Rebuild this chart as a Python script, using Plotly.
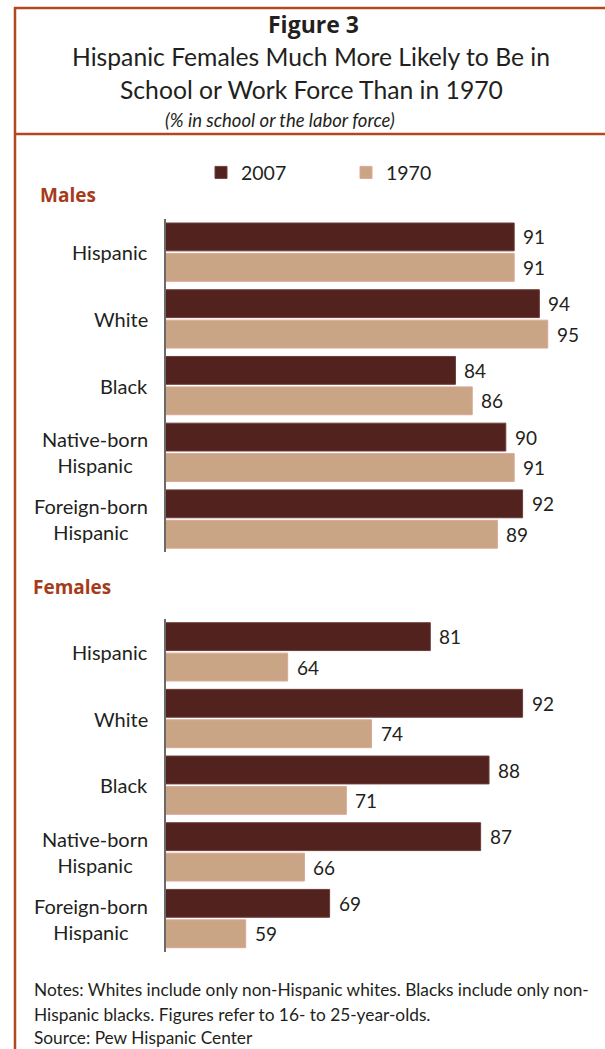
import plotly.graph_objects as go

# ---------------- data ----------------
categories = ["Hispanic", "White", "Black", "Native-born Hispanic", "Foreign-born Hispanic"]
category_labels = ["Hispanic", "White", "Black", "Native-born<br>Hispanic", "Foreign-born<br>Hispanic"]
series_names = ["2007", "1970"]
males_2007 = [91, 94, 84, 90, 92]
males_1970 = [91, 95, 86, 91, 89]
females_2007 = [81, 92, 88, 87, 69]
females_1970 = [64, 74, 71, 66, 59]

# ---------------- style ----------------
W, H = 605, 1049
FONT = "Lato"
BOLD = "Open Sans"
TXT = "#231f20"
C2007 = "#52221f"
C1970 = "#c9a586"
FRAME = "#b3471f"
HEAD = "#a63b1a"


def px(x):
    return x / W


def py(y):
    return 1 - y / H


fig = go.Figure()

panels = [("x", "y", males_2007, males_1970, True),
          ("x2", "y2", females_2007, females_1970, False)]
for xa, ya, v07, v70, leg in panels:
    fig.add_trace(go.Bar(
        x=v07, y=categories, orientation="h", name=series_names[0],
        marker=dict(color=C2007, line=dict(color="#6e3d38", width=1)),
        xaxis=xa, yaxis=ya, showlegend=leg, legendgroup="a", hoverinfo="x+y"))
    fig.add_trace(go.Bar(
        x=v70, y=categories, orientation="h", name=series_names[1],
        marker=dict(color=C1970, line=dict(color="#dca796", width=1)),
        xaxis=xa, yaxis=ya, showlegend=leg, legendgroup="b", hoverinfo="x+y"))

x_dom = [px(166), px(600)]
x_rng = [49.5, 49.5 + (600 - 166) / 8.39]
axis_x = dict(domain=x_dom, range=x_rng, showgrid=False, zeroline=False,
              showline=False, showticklabels=False, ticks="", fixedrange=True)
axis_y = dict(type="category", categoryorder="array", categoryarray=categories,
              range=[4.5, -0.5], showgrid=False, zeroline=False, showline=True,
              linecolor="#6a6a6a", linewidth=2, showticklabels=False, ticks="",
              fixedrange=True)

fig.update_layout(
    width=W, height=H,
    margin=dict(l=0, r=0, t=0, b=0, pad=0),
    paper_bgcolor="white", plot_bgcolor="white",
    font=dict(family=FONT, color=TXT, size=19),
    barmode="group", bargap=0.087, bargroupgap=0.085,
    xaxis=dict(axis_x, anchor="y"),
    yaxis=dict(axis_y, anchor="x", domain=[py(552.4), py(218.8)]),
    xaxis2=dict(axis_x, anchor="y2"),
    yaxis2=dict(axis_y, anchor="x2", domain=[py(951.9), py(618.5)]),
    legend=dict(orientation="h", x=px(201), xanchor="left", y=py(172.7),
                yanchor="middle", font=dict(size=19.5, family=FONT, color=TXT),
                bgcolor="rgba(0,0,0,0)", borderwidth=0, entrywidth=100,
                itemwidth=30, traceorder="normal"),
    showlegend=True,
)

annotations = []
# titles
titles = [("<b>Figure 3</b>", 313, 24, 23, BOLD),
          ("Hispanic Females Much More Likely to Be in", 311, 56.5, 24.7, FONT),
          ("School or Work Force Than in 1970", 311, 89, 24.7, FONT),
          ("<i>(% in school or the labor force)</i>", 280, 119.5, 18.5, FONT)]
for t, x, y, s, f in titles:
    annotations.append(dict(text=t, xref="paper", yref="paper", x=px(x), y=py(y),
                            xanchor="center", yanchor="middle", showarrow=False,
                            font=dict(size=s, family=f, color=TXT)))

# section headers
annotations.append(dict(text="<b>Males</b>", xref="paper", yref="paper", x=px(38), y=py(194.5),
                        xanchor="left", yanchor="middle", showarrow=False,
                        font=dict(size=19, family=BOLD, color=HEAD)))
annotations.append(dict(text="<b>Females</b>", xref="paper", yref="paper", x=px(31), y=py(586.5),
                        xanchor="left", yanchor="middle", showarrow=False,
                        font=dict(size=19, family=BOLD, color=HEAD)))

# category labels and value labels
for xa, ya, v07, v70, _ in panels:
    for cat, lab, a, b in zip(categories, category_labels, v07, v70):
        annotations.append(dict(text=lab, xref="paper", yref=ya, x=px(149.5), y=cat,
                                xanchor="right", yanchor="middle", align="center",
                                showarrow=False, font=dict(size=20, family=FONT, color=TXT)))
        for val, shift in ((a, 15.2), (b, -15.2)):
            annotations.append(dict(text=str(val), xref=xa, yref=ya, x=val, y=cat,
                                    xshift=7, yshift=shift, xanchor="left", yanchor="middle",
                                    showarrow=False, font=dict(size=19, family=FONT, color=TXT)))

# notes
notes = ["Notes: Whites include only non-Hispanic whites. Blacks include only non-",
         "Hispanic blacks. Figures refer to 16- to 25-year-olds.",
         "Source: Pew Hispanic Center"]
for t, yy in zip(notes, [989.5, 1014, 1037.5]):
    annotations.append(dict(text=t, xref="paper", yref="paper", x=px(32), y=py(yy),
                            xanchor="left", yanchor="middle", showarrow=False,
                            font=dict(size=17.3, family=FONT, color=TXT)))

fig.update_layout(annotations=annotations)

# frame
shapes = [
    dict(type="line", xref="paper", yref="paper", x0=px(15), x1=px(15), y0=py(7), y1=py(1049),
         line=dict(color=FRAME, width=2.5)),
    dict(type="line", xref="paper", yref="paper", x0=px(14), x1=px(605), y0=py(8), y1=py(8),
         line=dict(color=FRAME, width=2.5)),
    dict(type="line", xref="paper", yref="paper", x0=px(14), x1=px(605), y0=py(134), y1=py(134),
         line=dict(color=FRAME, width=2.5)),
]
fig.update_layout(shapes=shapes)

fig.write_html("out.html", config={"displayModeBar": False},
               post_script="document.body.style.margin='0';document.body.style.overflow='hidden';")
